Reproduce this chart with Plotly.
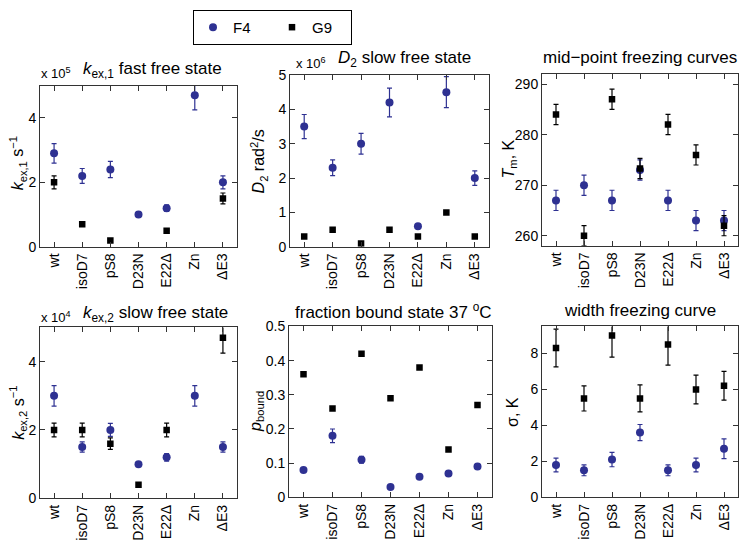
import plotly.graph_objects as go

categories = ["wt", "isoD7", "pS8", "D23N", "E22Δ", "Zn", "ΔE3"]

# Panel 1: k_ex,1 (x 10^5 s^-1)
kex1_F4 = [2.9, 2.2, 2.4, 1.0, 1.2, 4.7, 2.0]
kex1_F4_err = [0.3, 0.23, 0.25, 0.0, 0.1, 0.45, 0.2]
kex1_G9 = [2.0, 0.7, 0.2, None, 0.5, None, 1.5]
kex1_G9_err = [0.2, 0.0, 0.0, 0.0, 0.0, 0.0, 0.17]

# Panel 2: D2 (x 10^6 rad^2/s)
D2_F4 = [3.5, 2.3, 3.0, 4.2, 0.6, 4.5, 2.0]
D2_F4_err = [0.35, 0.23, 0.3, 0.42, 0.0, 0.45, 0.21]
D2_G9 = [0.3, 0.5, 0.1, 0.5, 0.3, 1.0, 0.3]
D2_G9_err = [0, 0, 0, 0, 0, 0, 0]

# Panel 3: Tm (K)
Tm_F4 = [267, 270, 267, 273, 267, 263, 263]
Tm_F4_err = [2, 2, 2, 2, 2, 2, 2]
Tm_G9 = [284, 260, 287, 273.3, 282, 276, 262]
Tm_G9_err = [2, 2, 2, 2, 2, 2, 2]

# Panel 4: k_ex,2 (x 10^4 s^-1)
kex2_F4 = [3.0, 1.5, 2.0, 1.0, 1.2, 3.0, 1.5]
kex2_F4_err = [0.3, 0.15, 0.19, 0.05, 0.11, 0.3, 0.15]
kex2_G9 = [2.0, 2.0, 1.6, 0.4, 2.0, None, 4.7]
kex2_G9_err = [0.2, 0.2, 0.17, 0.0, 0.2, 0.0, 0.45]

# Panel 5: p_bound
pb_F4 = [0.08, 0.18, 0.11, 0.03, 0.06, 0.07, 0.09]
pb_F4_err = [0.0, 0.02, 0.01, 0.0, 0.0, 0.0, 0.0]
pb_G9 = [0.36, 0.26, 0.42, 0.29, 0.38, 0.14, 0.27]
pb_G9_err = [0, 0, 0, 0, 0, 0, 0]

# Panel 6: sigma (K)
sig_F4 = [1.8, 1.5, 2.1, 3.6, 1.5, 1.8, 2.7]
sig_F4_err = [0.38, 0.3, 0.4, 0.45, 0.3, 0.38, 0.55]
sig_G9 = [8.3, 5.5, 9.0, 5.5, 8.5, 6.0, 6.2]
sig_G9_err = [1.05, 0.7, 1.2, 0.75, 1.15, 0.8, 0.8]

BLUE = "#2e3192"
FONT = "Liberation Sans, Arial, sans-serif"
W, H = 743, 550

def px_x(v):
    return v / W

def px_y(v):
    return 1 - v / H

panels = [
    dict(F4=kex1_F4, F4e=kex1_F4_err, G9=kex1_G9, G9e=kex1_G9_err,
         xd=(40, 237), yd=(80, 246), yr=[0, 5], tv=[0, 2, 4]),
    dict(F4=D2_F4, F4e=D2_F4_err, G9=D2_G9, G9e=D2_G9_err,
         xd=(290, 489), yd=(69, 246), yr=[0, 5], tv=[0, 1, 2, 3, 4, 5]),
    dict(F4=Tm_F4, F4e=Tm_F4_err, G9=Tm_G9, G9e=Tm_G9_err,
         xd=(542, 738), yd=(68, 245), yr=[258, 292], tv=[260, 270, 280, 290]),
    dict(F4=kex2_F4, F4e=kex2_F4_err, G9=kex2_G9, G9e=kex2_G9_err,
         xd=(40, 237), yd=(329, 505), yr=[0, 5], tv=[0, 2, 4]),
    dict(F4=pb_F4, F4e=pb_F4_err, G9=pb_G9, G9e=pb_G9_err,
         xd=(289, 492), yd=(328, 504), yr=[0, 0.5], tv=[0, 0.1, 0.2, 0.3, 0.4, 0.5]),
    dict(F4=sig_F4, F4e=sig_F4_err, G9=sig_G9, G9e=sig_G9_err,
         xd=(542, 738), yd=(328, 504), yr=[0, 9.5], tv=[0, 2, 4, 6, 8]),
]

fig = go.Figure()
layout = {}
for i, p in enumerate(panels):
    n = i + 1
    xa = "x" if n == 1 else f"x{n}"
    ya = "y" if n == 1 else f"y{n}"
    fig.add_trace(go.Scatter(
        x=categories, y=p["F4"], xaxis=xa, yaxis=ya, mode="markers", name="F4",
        showlegend=(n == 1), legendgroup="F4",
        marker=dict(symbol="circle", size=8, color=BLUE),
        error_y=dict(type="data", array=p["F4e"], visible=True, color=BLUE,
                     thickness=1.2, width=2.5),
    ))
    fig.add_trace(go.Scatter(
        x=categories, y=p["G9"], xaxis=xa, yaxis=ya, mode="markers", name="G9",
        showlegend=(n == 1), legendgroup="G9",
        marker=dict(symbol="square", size=6.5, color="black"),
        error_y=dict(type="data", array=p["G9e"], visible=True, color="black",
                     thickness=1.2, width=2.5),
    ))
    axis_common = dict(showline=True, linecolor="#333", linewidth=1, mirror="ticks",
                       ticks="inside", ticklen=5, tickcolor="#333", showgrid=False,
                       zeroline=False)
    layout["xaxis" if n == 1 else f"xaxis{n}"] = dict(
        domain=[px_x(p["xd"][0]), px_x(p["xd"][1])], anchor=ya,
        type="category", categoryorder="array", categoryarray=categories,
        range=[-0.5, 6.5], tickangle=-90,
        tickfont=dict(size=14, family=FONT, color="black"), **axis_common)
    layout["yaxis" if n == 1 else f"yaxis{n}"] = dict(
        domain=[px_y(p["yd"][1]), px_y(p["yd"][0])], anchor=xa,
        range=p["yr"], tickvals=p["tv"],
        tickfont=dict(size=14, family=FONT, color="black"), **axis_common)

ann = []
def add_text(text, x, y, size=16, xanchor="center", angle=0):
    ann.append(dict(text=text, x=px_x(x), y=px_y(y), xref="paper", yref="paper",
                    showarrow=False, xanchor=xanchor, yanchor="middle",
                    textangle=angle, font=dict(size=size, family=FONT, color="black")))

# titles
add_text("x 10<sup>5</sup>", 39, 67, size=13, xanchor="left")
add_text("<i>k</i><sub>ex,1</sub> fast free state", 81, 64, size=17, xanchor="left")
add_text("x 10<sup>6</sup>", 294, 57, size=13, xanchor="left")
add_text("<i>D</i><sub>2</sub> slow free state", 336, 53, size=17, xanchor="left")
add_text("mid−point freezing curves", 640, 51, size=17)
add_text("x 10<sup>4</sup>", 39, 318, size=13, xanchor="left")
add_text("<i>k</i><sub>ex,2</sub> slow free state", 81, 315, size=17, xanchor="left")
add_text("fraction bound state 37 <sup>o</sup>C", 393, 312, size=17)
add_text("width freezing curve", 640, 312, size=17)

# y labels
add_text("<i>k</i><sub>ex,1</sub> s<sup>−1</sup>", 18, 160, size=16, angle=-90)
add_text("<i>D</i><sub>2</sub> rad<sup>2</sup>/s", 259, 158, size=16, angle=-90)
add_text("<i>T</i><sub>m</sub>, K", 509, 156, size=16, angle=-90)
add_text("<i>k</i><sub>ex,2</sub> s<sup>−1</sup>", 18, 417, size=16, angle=-90)
add_text("<i>p</i><sub>bound</sub>", 257, 416, size=16, angle=-90)
add_text("σ, K", 513, 416, size=16, angle=-90)

fig.update_layout(
    width=W, height=H,
    margin=dict(l=0, r=0, t=0, b=0),
    paper_bgcolor="white", plot_bgcolor="white",
    font=dict(family=FONT, color="black"),
    annotations=ann,
    legend=dict(orientation="h", x=px_x(193), y=px_y(2), xanchor="left", yanchor="top",
                bordercolor="black", borderwidth=1, bgcolor="white",
                font=dict(size=15, family=FONT, color="black"),
                entrywidth=34, entrywidthmode="pixels", itemclick=False),
    **layout,
)

fig.write_html("out.html", config={"displayModeBar": False},
               post_script="document.body.style.margin='0';")
